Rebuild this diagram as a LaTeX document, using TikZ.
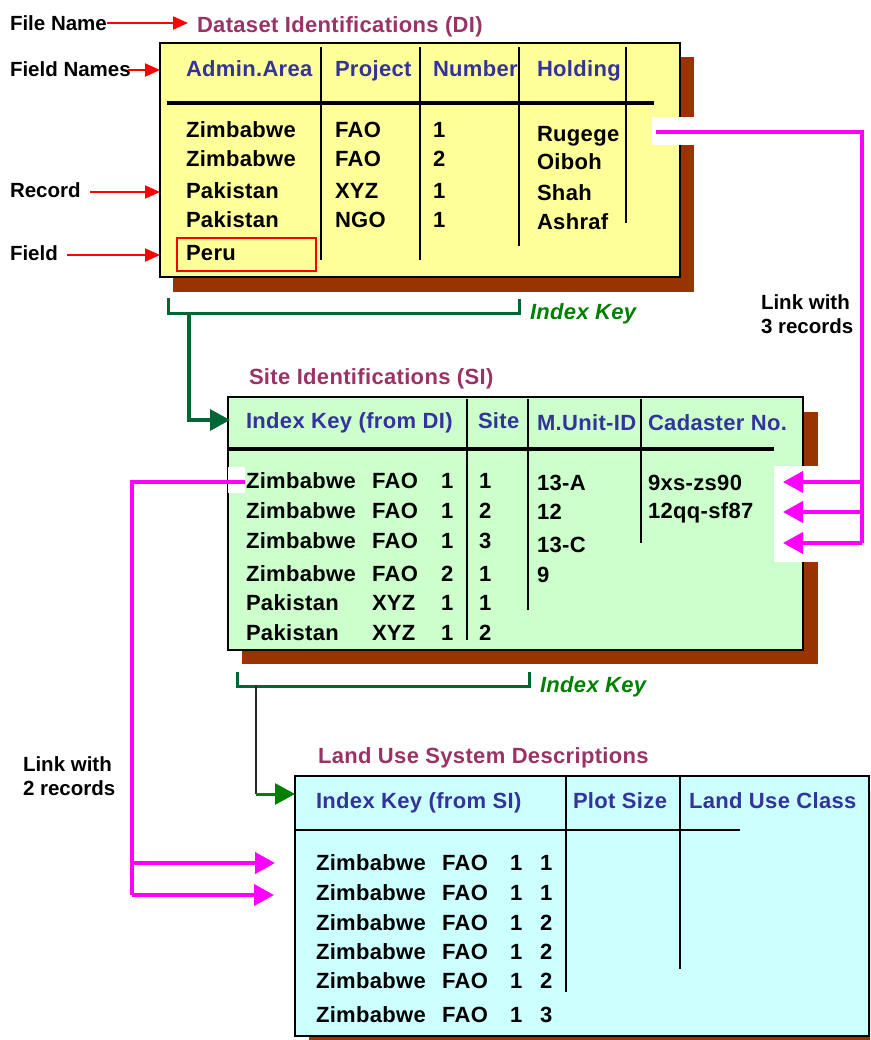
\documentclass[tikz,border=0pt]{standalone}
\usepackage{fontspec}
\setmainfont{Liberation Sans}
\newfontfamily\spacedsans[LetterSpace=1.5]{Liberation Sans}
\usetikzlibrary{arrows.meta}
\definecolor{ttlcol}{HTML}{993366}
\definecolor{hdrcol}{HTML}{333399}
\definecolor{keycol}{HTML}{008000}
\definecolor{brkcol}{HTML}{006633}
\definecolor{shadcol}{HTML}{993300}
\definecolor{difill}{HTML}{FFFF99}
\definecolor{sifill}{HTML}{CCFFCC}
\definecolor{lufill}{HTML}{CCFFFF}
\definecolor{linkcol}{HTML}{FF00FF}
\definecolor{redcol}{HTML}{FF0000}
\tikzset{
  txt/.style={anchor=base west, inner sep=0pt, outer sep=0pt,
    font=\spacedsans\fontsize{22}{26}\selectfont\bfseries},
  side/.style={txt, font=\fontsize{20.5}{25}\selectfont\bfseries},
  ttl/.style={txt, text=ttlcol},
  hdr/.style={txt, text=hdrcol},
  keytxt/.style={txt, text=keycol, font=\spacedsans\fontsize{22}{26}\selectfont\bfseries\itshape},
  shadowbox/.style={fill=shadcol, draw=none},
  tablebox/.style={draw=black, line width=1.6pt},
  colrule/.style={draw=black, line width=1.6pt},
  headrule/.style={draw=black, line width=3.5pt},
  redarrow/.style={draw=redcol, line width=2pt, -{Triangle[length=15pt,width=13pt]}},
  linkline/.style={draw=linkcol, line width=4pt},
  linkarrow/.style={linkline, -{Triangle[length=20pt,width=21pt]}},
  bracket/.style={draw=brkcol, line width=3pt},
  keyarrow/.style={draw=brkcol, line width=3.5pt, -{Triangle[length=20pt,width=21pt]}},
  patch/.style={fill=white, draw=none},
}
\begin{document}
\begin{tikzpicture}[x=1pt, y=-1pt]
\useasboundingbox (0,0) rectangle (870,1040);
\clip (0,0) rectangle (870,1040);

% ---------- Dataset Identifications (DI) ----------
\fill[shadowbox] (173,57) rectangle (694,292);
\filldraw[tablebox, fill=difill] (160,43) rectangle (680,277);
\foreach \x/\b in {321/260, 420/260, 519/246, 626/223}
  \draw[colrule] (\x,47) -- (\x,\b);
\draw[headrule] (167,103) -- (654,103);
\draw[draw=redcol, line width=1.4pt] (177,238) rectangle (316,271);

\node[ttl] (ditl) at (197,33) {Dataset Identifications (DI)};
\node[hdr] (dih1) at (186,77) {Admin.Area};
\node[hdr] (dih2) at (335,77) {Project};
\node[hdr] (dih3) at (433,77) {Number};
\node[hdr] (dih4) at (537,77) {Holding};
\foreach \i/\y/\a/\p/\n in {1/138/Zimbabwe/FAO/1, 2/167/Zimbabwe/FAO/2,
                           3/199/Pakistan/XYZ/1, 4/228/Pakistan/NGO/1}{
  \node[txt] (dia\i) at (186,\y) {\a};
  \node[txt] (dip\i) at (335,\y) {\p};
  \node[txt] (din\i) at (433,\y) {\n};
}
\node[txt] (dia5) at (186,261) {Peru};
\node[txt] (dih-a) at (537,142) {Rugege};
\node[txt] (dih-b) at (537,170) {Oiboh};
\node[txt] (dih-c) at (537,201) {Shah};
\node[txt] (dih-d) at (537,230) {Ashraf};

% side labels with red pointers
\node[side] (lfile)   at (10,31)  {File Name};
\node[side] (lfields) at (10,77)  {Field Names};
\node[side] (lrecord) at (10,198) {Record};
\node[side] (lfield)  at (10,261) {Field};
\coordinate (fileS)   at (107,23);  \coordinate (fileE)   at (188,23);
\coordinate (fieldsS) at (128,70);  \coordinate (fieldsE) at (160,70);
\coordinate (recS)    at (90,192);  \coordinate (recE)    at (160,192);
\coordinate (fldS)    at (67,255);  \coordinate (fldE)    at (160,255);
\draw[redarrow] (fileS) -- (fileE);
\draw[redarrow] (fieldsS) -- (fieldsE);
\draw[redarrow] (recS) -- (recE);
\draw[redarrow] (fldS) -- (fldE);

% DI index key bracket
\draw[bracket] (168,298) -- (168,313) -- (519,313) -- (519,299);
\node[keytxt] (dikey) at (530,319) {Index Key};

% ---------- Site Identifications (SI) ----------
\fill[shadowbox] (242,412) rectangle (818,664);
\filldraw[tablebox, fill=sifill] (228,397) rectangle (803,650);
\foreach \x/\b in {467/640, 528/610, 641/543}
  \draw[colrule] (\x,399) -- (\x,\b);
\draw[headrule] (228,449) -- (774,449);

\node[ttl] (sitl) at (249,384) {Site Identifications (SI)};
\node[hdr] (sih1) at (246,428) {Index Key (from DI)};
\node[hdr] (sih2) at (478,428) {Site};
\node[hdr] (sih3) at (537,430) {M.Unit-ID};
\node[hdr] (sih4) at (648,430) {Cadaster No.};
\foreach \i/\y/\a/\p/\n/\s in {1/488/Zimbabwe/FAO/1/1, 2/518/Zimbabwe/FAO/1/2,
     3/548/Zimbabwe/FAO/1/3, 4/581/Zimbabwe/FAO/2/1,
     5/610/Pakistan/XYZ/1/1, 6/640/Pakistan/XYZ/1/2}{
  \node[txt] (sia\i) at (246,\y) {\a};
  \node[txt] (sip\i) at (372,\y) {\p};
  \node[txt] (sin\i) at (441,\y) {\n};
  \node[txt] (sis\i) at (479,\y) {\s};
}
\node[txt] (sim1) at (537,490) {13-A};
\node[txt] (sim2) at (537,519) {12};
\node[txt] (sim3) at (537,552) {13-C};
\node[txt] (sim4) at (537,582) {9};
\node[txt] (sic1) at (648,490) {9xs-zs90};
\node[txt] (sic2) at (648,518) {12qq-sf87};

% SI index key bracket
\draw[bracket] (237,672) -- (237,686) -- (529,686) -- (529,672);
\node[keytxt] (sikey) at (540,692) {Index Key};

% ---------- Land Use System Descriptions ----------
\fill[shadowbox] (309,790) rectangle (884,1052);
\filldraw[tablebox, fill=lufill] (295,776) rectangle (869,1036);
\draw[colrule] (566,777) -- (566,992);
\draw[colrule] (680,777) -- (680,969);
\draw[colrule] (295,830) -- (740,830);

\node[ttl] (lutl) at (318,763) {Land Use System Descriptions};
\node[hdr] (luh1) at (316,808) {Index Key (from SI)};
\node[hdr] (luh2) at (573,808) {Plot Size};
\node[hdr] (luh3) at (689,808) {Land Use Class};
\foreach \i/\y/\n/\s in {1/870/1/1, 2/900/1/1, 3/930/1/2,
                         4/959/1/2, 5/988/1/2, 6/1022/1/3}{
  \node[txt] (lua\i) at (316,\y) {Zimbabwe};
  \node[txt] (lup\i) at (442,\y) {FAO};
  \node[txt] (lun\i) at (510,\y) {\n};
  \node[txt] (lus\i) at (540,\y) {\s};
}

% ---------- index key connectors ----------
\coordinate (dikeyS) at (189,313);
\coordinate (dikeyB) at (189,420);
\coordinate (sihead) at (230,420);
\draw[keyarrow] (dikeyS) -- (dikeyB) -- (sihead);

\coordinate (sikeyS) at (256,686);
\coordinate (sikeyB) at (256,794);
\coordinate (luhead) at (295,794);
\draw[draw=black!85, line width=1.6pt] (sikeyS) -- (sikeyB);
\draw[draw=keycol, line width=3pt, -{Triangle[length=20pt,width=21pt]}] (sikeyB) -- (luhead);

% ---------- record links ----------
% DI -> SI (3 records)
\fill[patch] (652,117) rectangle (694,145);
\fill[patch] (774,466) rectangle (818,562);
\coordinate (diRec) at (656,132);
\coordinate (rTop)  at (862,132);
\coordinate (rA) at (862,482); \coordinate (rB) at (862,512); \coordinate (rC) at (862,543);
\coordinate (siA) at (783,482); \coordinate (siB) at (783,512); \coordinate (siC) at (783,543);
\draw[linkline] (diRec) -- (rTop) -- (rC);
\draw[linkarrow] (rA) -- (siA);
\draw[linkarrow] (rB) -- (siB);
\draw[linkarrow] (rC) -- (siC);
\node[side] (link3a) at (761,309) {Link with};
\node[side] (link3b) at (761,333) {3 records};

% SI -> LUS (2 records)
\fill[patch] (228,467) rectangle (245,493);
\coordinate (siRec) at (245,482);
\coordinate (lTop)  at (132,482);
\coordinate (lA) at (132,863); \coordinate (lB) at (132,895);
\coordinate (luA) at (275,863); \coordinate (luB) at (274,895);
\draw[linkline] (siRec) -- (lTop) -- (lB);
\draw[linkarrow] (lA) -- (luA);
\draw[linkarrow] (lB) -- (luB);
\node[side] (link2a) at (23,771) {Link with};
\node[side] (link2b) at (23,795) {2 records};
\end{tikzpicture}
\end{document}
